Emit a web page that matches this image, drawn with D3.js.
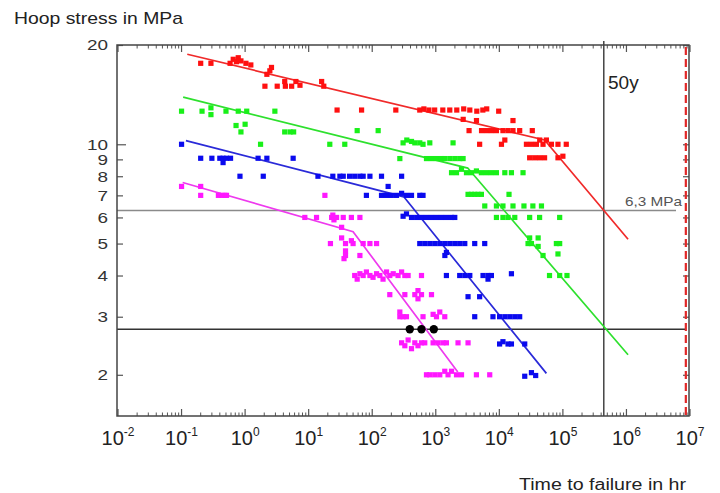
<!DOCTYPE html>
<html>
<head>
<meta charset="utf-8">
<script src="https://cdn.jsdelivr.net/npm/d3@7/dist/d3.min.js"></script>
<style>
  body { margin: 0; background: #fff; }
  svg { display: block; font-family: "Liberation Sans", Arial, sans-serif; }
</style>
</head>
<body>
<svg id="chart" width="720" height="493"></svg>
<script>
// ---- data: [time to failure (hr), hoop stress (MPa)] ----
var redPoints = [
    [0.2,17.6],[0.29,17.6],[0.58,17.6],[0.65,18.1],[0.73,17.8],[0.78,18.3],[0.86,17.9],[1.03,17.6],[1.23,17.4],
    [2.2,16.3],[2.45,16.7],[2.6,17.1],
    [2.05,15.0],[3.2,15.0],[4.2,15.5],[4.3,15.0],[5.4,15.0],[6.3,15.5],[7.3,15.1],[16,15.5],[17.3,15.0],
    [28,12.7],[68,12.7],[235,12.7],[560,12.7],[650,12.8],[780,12.7],[960,12.7],[1290,12.7],[1660,12.7],[2140,12.7],
    [2750,12.8],[3430,12.7],[4420,12.6],[5500,12.7],[6330,12.8],[9770,12.6],
    [2700,11.9],[4370,11.8],[16400,11.8],
    [3340,11.0],[5250,11.0],[6300,11.0],[7520,11.0],[9000,11.0],[11400,11.0],[13700,11.0],[16400,11.0],[20900,11.0],[33000,11.0],
    [4900,10.0],[10800,10.0],[12200,10.3],[26700,10.0],[32000,10.0],[38300,10.0],[43200,10.3],[48700,10.0],[55000,10.3],
    [66000,10.0],[83700,10.0],[113000,10.0],
    [30000,9.1],[36000,9.1],[43000,9.1],[51500,9.1],[83700,9.1],[100000,9.2]
];
var greenPoints = [
    [0.1,12.6],[0.21,12.6],[0.29,12.9],[0.29,12.3],[0.5,12.6],[0.78,12.6],[1.06,12.6],[2.94,12.6],
    [0.72,11.4],[0.86,10.9],[1.0,11.5],
    [4.2,10.9],[5.1,10.9],[5.8,10.9],[58,11.0],[124,11.0],
    [1.75,10.0],[21.5,10.0],[37,10.0],
    [306,10.1],[350,10.3],[415,10.2],[468,10.1],[560,10.1],[630,10.0],[805,10.1],[1870,10.1],
    [272,9.05],[714,9.05],[856,9.05],[1026,9.05],[1230,9.05],[1380,9.05],[1660,9.05],[1990,9.05],[2380,9.05],[2690,9.05],
    [1770,8.2],[2120,8.2],[2540,8.4],[3040,8.2],[3640,8.2],[4360,8.3],[5220,8.2],[6270,8.2],[7500,8.2],[9000,8.2],
    [12200,8.2],[15500,8.2],[23600,8.2],
    [3220,7.05],[3640,7.05],[4100,7.05],[4620,7.05],[5220,7.05],[14200,7.05],
    [5900,6.5],[9000,6.5],[11400,6.5],[16400,6.5],[24400,6.5],[33700,6.5],[46000,6.5],
    [9000,6.0],[11400,6.0],[13700,6.0],[17500,6.0],[30000,6.0],[43000,6.0],[89000,6.0],
    [28300,5.0],[30000,5.2],[32000,5.0],[40800,5.2],[40800,4.9],[79000,5.0],[89000,5.0],
    [48700,4.6],[83700,4.65],
    [61600,4.0],[89000,4.0],[116000,4.0]
];
var bluePoints = [
    [0.1,10.0],
    [0.2,9.07],[0.3,9.07],[0.4,9.07],[0.45,9.07],[0.45,8.8],[0.51,9.07],[0.59,9.07],[1.6,9.07],[2.2,9.07],[5.7,9.07],
    [0.83,8.0],[1.93,8.0],[14,8.0],[24,8.0],[31,8.0],[35,8.0],[44,8.0],[53,8.0],[64,8.0],[72,8.0],[92,8.0],[140,8.0],[290,8.0],
    [178,7.45],
    [81,7.0],[140,7.0],[168,7.0],[200,7.0],[241,7.0],[290,7.1],[346,7.0],[415,7.0],[560,7.0],[630,7.0],
    [306,6.05],[346,6.15],[415,6.0],[500,6.0],[596,6.0],[714,6.0],[856,6.0],[1026,6.0],[1230,6.0],[1470,6.0],[1770,6.0],[1990,6.0],
    [560,5.0],[671,5.0],[805,5.0],[964,5.0],[1156,5.0],[1385,5.0],[1660,5.0],[1990,5.0],[2380,5.0],[2860,5.0],[4100,5.0],[5890,5.0],
    [1390,4.6],[1470,4.7],
    [1470,4.0],[2380,4.0],[2860,4.0],[3430,4.0],[5540,4.0],[6640,4.0],[6640,3.9],[7500,4.0],[15500,4.05],
    [3220,3.45],[4900,3.45],
    [4100,3.0],[7940,3.0],[10100,3.0],[12200,3.0],[14600,3.0],[17500,3.0],[20900,3.0],
    [10100,2.48],[11400,2.52],[13700,2.48],[15500,2.48],[25100,2.48],
    [25100,1.98],[32000,2.03],[37300,1.99]
];
var magentaPoints = [
    [0.1,7.45],[0.2,7.45],
    [0.2,7.0],[0.38,7.0],[0.43,7.0],[0.48,7.0],[0.51,7.0],[18,7.0],
    [8.7,6.0],[13.3,6.0],[23,6.0],[24,6.1],[25,5.9],[27.5,6.0],[35,6.0],[47,6.0],[64,6.0],
    [22,5.0],[33,5.6],[33,5.2],[38,5.0],[38,4.75],[36,4.5],[47,5.1],[50,5.0],[72,5.0],[92,5.0],[117,5.0],[38,4.6],[64,4.6],
    [53,4.0],[58,3.9],[64,4.05],[72,4.0],[81,4.1],[92,4.0],[103,3.95],[117,4.05],[132,4.0],[148,3.9],[168,4.1],
    [189,4.0],[214,4.05],[255,4.0],[290,4.1],[326,4.0],[367,4.0],[596,4.0],
    [189,3.5],[326,3.5],[468,3.5],[525,3.6],[525,3.4],[596,3.5],[856,3.5],
    [272,3.0],[272,3.1],[306,3.0],[346,3.0],[630,3.0],[908,3.05],[1026,3.0],[1156,3.1],[1385,3.0],
    [290,2.5],[326,2.45],[367,2.55],[415,2.4],[468,2.5],[525,2.45],[596,2.5],[671,2.5],[908,2.5],[1087,2.5],
    [1300,2.5],[1470,2.5],[2240,2.5],[3220,2.5],
    [714,2.0],[805,2.0],[964,2.0],[1156,2.0],[1385,2.05],[1560,2.0],[1770,2.05],[2120,2.0],[2540,2.0],[4360,2.0],[7060,2.0]
];
// fitted (knee) lines
var redFit = [[0.123,18.75],[51500,10.3],[1.06e6,5.15]];
var greenFit = [[0.106,13.9],[3180,8.47],[1.06e6,2.3]];
var blueFit = [[0.117,10.26],[314,6.93],[55000,2.02]];
var magentaFit = [[0.104,7.66],[50,5.43],[2220,2.04]];
// black dots on the 2.75 MPa line
var blackDots = [[390,2.75],[596,2.75],[931,2.75]];

// reference values
var ref63 = 6.3;        // MPa
var refLow = 2.75;      // MPa
var fiftyYears = 4.4e5; // hr
var limitTime = 8.6e6;  // hr (red dashed)

// ticks
var xTicks = [1e-2,1e-1,1e0,1e1,1e2,1e3,1e4,1e5,1e6,1e7];
var xExp = ["-2","-1","0","1","2","3","4","5","6","7"];
var yTicks = [2,3,4,5,6,7,8,9,10,20];

var series = [
    {pts: redPoints, fit: redFit, color: "#ff1010", line: "#f02a2a"},
    {pts: greenPoints, fit: greenFit, color: "#19f019", line: "#2ee02e"},
    {pts: bluePoints, fit: blueFit, color: "#0a0aee", line: "#2a2ad8"},
    {pts: magentaPoints, fit: magentaFit, color: "#ff18ff", line: "#ee3aee"}
];

var svg = d3.select('#chart');
var x = d3.scaleLog().domain([0.01, 1e7]).range([118, 690]);
var y = d3.scaleLog().domain([1.5, 20]).range([416, 45]);
var x0 = 117, x1 = 689, y0 = 45, y1 = 416;

// minor ticks 2..9 in each decade
var minorX = [];
xTicks.slice(0, -1).forEach(function(d) {
    for (var k = 2; k < 10; k++) minorX.push(d * k);
});

// top and bottom tick marks (inside)
function xTickMarks(yPos, dir) {
    var g = svg.append('g').attr('class', 'xticks');
    g.selectAll('line.minor').data(minorX).enter().append('line')
        .attr('x1', x).attr('x2', x)
        .attr('y1', yPos).attr('y2', yPos + dir * 3.5)
        .attr('stroke', '#555').attr('stroke-width', 1);
    g.selectAll('line.major').data(xTicks).enter().append('line')
        .attr('x1', x).attr('x2', x)
        .attr('y1', yPos).attr('y2', yPos + dir * 7)
        .attr('stroke', '#555').attr('stroke-width', 1.2);
}
xTickMarks(y0, 1);
xTickMarks(y1, -1);

// left / right ticks, inside
var yAxisL = d3.axisLeft(y).tickValues(yTicks).tickSize(-6).tickPadding(9)
    .tickFormat(d3.format('d'));
var gl = svg.append('g').attr('transform', 'translate(' + x0 + ',0)').call(yAxisL);
gl.select('.domain').remove();
gl.selectAll('line').attr('stroke', '#555').attr('stroke-width', 1.2)
    .attr('x2', function(d) { return d == 10 ? 9 : 6; });
gl.selectAll('text').attr('font-size', 15).attr('fill', '#333')
    .attr('font-family', '"Liberation Sans", Arial, sans-serif')
    .attr('textLength', function(d) { return d >= 10 ? 21 : 10.5; })
    .attr('lengthAdjust', 'spacingAndGlyphs');

var yAxisR = d3.axisRight(y).tickValues(yTicks).tickSize(-6).tickFormat('');
var gr = svg.append('g').attr('transform', 'translate(' + x1 + ',0)').call(yAxisR);
gr.select('.domain').remove();
gr.selectAll('line').attr('stroke', '#555').attr('stroke-width', 1.2);

// x tick labels 10^n
var xl = svg.append('g').selectAll('text').data(xTicks).enter().append('text')
    .attr('x', function(d) { return x(d); })
    .attr('y', 445)
    .attr('text-anchor', 'middle')
    .attr('fill', '#222')
    .attr('font-size', 20);
xl.append('tspan').text('10');
xl.append('tspan').attr('font-size', 12).attr('dy', -9)
    .text(function(d, i) { return xExp[i]; });

// reference lines
svg.append('line')
    .attr('x1', x0).attr('x2', 676).attr('y1', y(ref63)).attr('y2', y(ref63))
    .attr('stroke', '#8a8a8a').attr('stroke-width', 1.6);
svg.append('line')
    .attr('x1', x0).attr('x2', 686).attr('y1', y(refLow)).attr('y2', y(refLow))
    .attr('stroke', '#333').attr('stroke-width', 1.4);
svg.append('line')
    .attr('x1', x(fiftyYears)).attr('x2', x(fiftyYears)).attr('y1', 41).attr('y2', y1)
    .attr('stroke', '#444').attr('stroke-width', 1.5);
svg.append('line')
    .attr('x1', x(limitTime)).attr('x2', x(limitTime)).attr('y1', y0 + 2).attr('y2', y1)
    .attr('stroke', '#e02828').attr('stroke-width', 2.2)
    .attr('stroke-dasharray', '8,4');

// fitted lines
var lineGen = d3.line()
    .x(function(d) { return x(d[0]); })
    .y(function(d) { return y(d[1]); });

series.forEach(function(s) {
    svg.append('path')
        .datum(s.fit)
        .attr('d', lineGen)
        .attr('fill', 'none')
        .attr('stroke', s.line)
        .attr('stroke-width', 1.7);
});

// data points (small squares)
series.forEach(function(s) {
    svg.append('g').selectAll('rect').data(s.pts).enter().append('rect')
        .attr('x', function(d) { return x(d[0]) - 2.6; })
        .attr('y', function(d) { return y(d[1]) - 2.6; })
        .attr('width', 5.2).attr('height', 5.2)
        .attr('fill', s.color);
});

svg.append('g').selectAll('circle').data(blackDots).enter().append('circle')
    .attr('cx', function(d) { return x(d[0]); })
    .attr('cy', function(d) { return y(d[1]); })
    .attr('r', 4.2)
    .attr('fill', '#000');

// frame
svg.append('rect')
    .attr('x', x0).attr('y', y0).attr('width', x1 - x0).attr('height', y1 - y0)
    .attr('fill', 'none').attr('stroke', '#444').attr('stroke-width', 1.5);

// annotations
svg.append('text').attr('x', 608).attr('y', 89).attr('font-size', 19).attr('fill', '#222').text('50y');
svg.append('text').attr('x', 625).attr('y', 206)
    .attr('font-size', 13).attr('fill', '#555')
    .attr('textLength', 57).attr('lengthAdjust', 'spacingAndGlyphs').text('6,3 MPa');

// axis titles
svg.append('text').attr('x', 14).attr('y', 24).attr('font-size', 17).attr('fill', '#222')
    .attr('textLength', 169).attr('lengthAdjust', 'spacingAndGlyphs')
    .text('Hoop stress in MPa');
svg.append('text').attr('x', 519).attr('y', 490)
    .attr('font-size', 16).attr('fill', '#222')
    .attr('textLength', 167).attr('lengthAdjust', 'spacingAndGlyphs')
    .text('Time to failure in hr');
</script>
</body>
</html>
